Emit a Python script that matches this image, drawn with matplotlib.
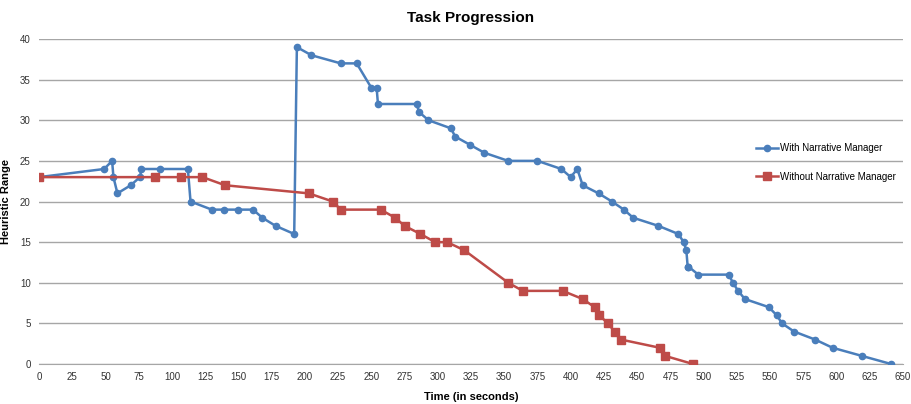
import matplotlib
matplotlib.use('Agg')
import matplotlib.pyplot as plt

plt.rcParams['font.family'] = ['Liberation Sans Narrow', 'Liberation Sans', 'DejaVu Sans']

# With Narrative Manager
with_t = [0, 49, 55, 56, 59, 69, 76, 77, 91, 112, 114, 130, 139, 150, 161, 168, 178, 192,
          194, 205, 227, 239, 250, 254, 255, 284, 286, 293, 310, 313, 324, 335, 353, 375,
          393, 400, 405, 409, 421, 431, 440, 447, 466, 481, 485, 487, 488, 488.5, 496, 519,
          522, 526, 531, 549, 555, 559, 568, 584, 597, 619, 641]
with_h = [23, 24, 25, 23, 21, 22, 23, 24, 24, 24, 20, 19, 19, 19, 19, 18, 17, 16,
          39, 38, 37, 37, 34, 34, 32, 32, 31, 30, 29, 28, 27, 26, 25, 25,
          24, 23, 24, 22, 21, 20, 19, 18, 17, 16, 15, 14, 12, 12, 11, 11,
          10, 9, 8, 7, 6, 5, 4, 3, 2, 1, 0]

# Without Narrative Manager
without_t = [0, 87, 107, 123, 140, 203, 221, 227, 257, 268, 275, 287, 298, 307, 320,
             353, 364, 394, 409, 418, 421.5, 428, 433, 438, 467, 471, 492]
without_h = [23, 23, 23, 23, 22, 21, 20, 19, 19, 18, 17, 16, 15, 15, 14,
             10, 9, 9, 8, 7, 6, 5, 4, 3, 2, 1, 0]

fig = plt.figure(figsize=(9.12, 4.04), dpi=100)
ax = fig.add_axes([39 / 912, 1 - 364 / 404, 864 / 912, 325 / 404])

ax.plot(with_t, with_h, color='#4a7ebb', lw=1.8, marker='o', ms=4.5,
        label='With Narrative Manager', zorder=3)
ax.plot(without_t, without_h, color='#be4b48', lw=1.8, marker='s', ms=5.5,
        label='Without Narrative Manager', zorder=3)

ax.set_xlim(0, 650)
ax.set_ylim(0, 40)
ax.set_xticks(range(0, 651, 25))
ax.set_yticks(range(0, 41, 5))
ax.tick_params(axis='both', labelsize=7, length=0, pad=6, colors='#333333')
ax.grid(axis='y', color='#a6a6a6', lw=1)
ax.set_axisbelow(True)
for s in ['left', 'top', 'right']:
    ax.spines[s].set_visible(False)
ax.spines['bottom'].set_color('#a6a6a6')

ax.set_title('Task Progression', fontsize=11, fontweight='bold', pad=12,
             family=['Liberation Sans', 'DejaVu Sans'])
ax.set_xlabel('Time (in seconds)', fontsize=8, fontweight='bold', labelpad=7,
              family=['Liberation Sans', 'DejaVu Sans'])
ax.set_ylabel('Heuristic Range', fontsize=8, fontweight='bold',
              family=['Liberation Sans', 'DejaVu Sans'])
ax.yaxis.set_label_coords(-28 / 864, 0.5)

ax.legend(loc='center left', bbox_to_anchor=(0.82, 0.62), frameon=False,
          fontsize=7, labelspacing=1.9, handlelength=2.2, handletextpad=0.2)

fig.savefig('out.png', dpi=100)
